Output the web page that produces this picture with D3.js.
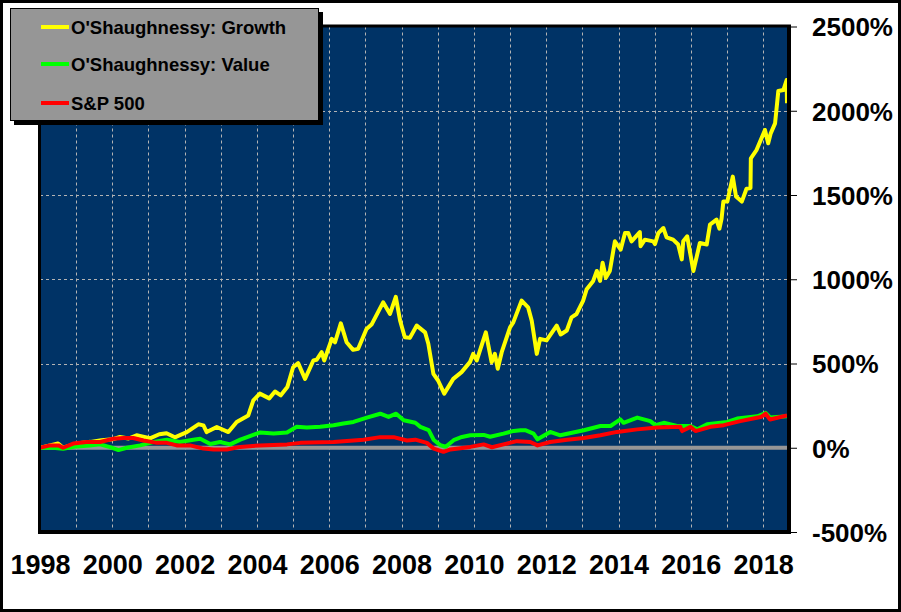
<!DOCTYPE html>
<html>
<head>
<meta charset="utf-8">
<script src="https://cdn.jsdelivr.net/npm/d3@7"></script>
<style>
  body { margin: 0; background: #fff; }
  svg text { font-family: Arial, "Liberation Sans", sans-serif; font-weight: bold; }
</style>
</head>
<body>
<div id="chart"></div>
<script>
// cumulative return (%), [year, pct]
var growth = [
  [1998.00, 0], [1998.30, 15], [1998.50, 25], [1998.64, 0], [1999.00, 25], [1999.40, 35],
  [1999.70, 45], [2000.00, 50], [2000.21, 64], [2000.45, 55], [2000.67, 74], [2001.04, 56],
  [2001.30, 80], [2001.50, 86], [2001.73, 62], [2002.06, 93], [2002.38, 139], [2002.52, 133],
  [2002.61, 93], [2002.89, 123], [2003.21, 93], [2003.44, 153], [2003.76, 192], [2003.90, 281],
  [2004.08, 321], [2004.34, 293], [2004.50, 334], [2004.66, 311], [2004.84, 360], [2005.00, 478],
  [2005.14, 502], [2005.33, 409], [2005.56, 518], [2005.65, 522], [2005.79, 567], [2005.86, 518],
  [2006.07, 646], [2006.16, 626], [2006.32, 738], [2006.48, 626], [2006.66, 581], [2006.80, 587],
  [2007.03, 705], [2007.17, 731], [2007.49, 863], [2007.68, 794], [2007.84, 896], [2007.96, 754],
  [2008.09, 656], [2008.23, 652], [2008.42, 725], [2008.65, 685], [2008.74, 617], [2008.88, 439],
  [2009.01, 399], [2009.18, 321], [2009.43, 409], [2009.66, 449], [2009.89, 508], [2009.98, 557],
  [2010.08, 518], [2010.33, 685], [2010.49, 508], [2010.58, 557], [2010.66, 469], [2010.77, 567],
  [2011.00, 715], [2011.09, 744], [2011.32, 873], [2011.50, 833], [2011.60, 754], [2011.74, 557],
  [2011.83, 646], [2012.01, 637], [2012.29, 725], [2012.40, 672], [2012.57, 696], [2012.70, 774],
  [2012.84, 794], [2013.02, 872], [2013.12, 941], [2013.30, 990], [2013.40, 1049], [2013.49, 990],
  [2013.56, 1098], [2013.65, 1009], [2013.76, 1049], [2013.90, 1225], [2014.06, 1176], [2014.18, 1274],
  [2014.27, 1274], [2014.36, 1225], [2014.59, 1280], [2014.61, 1196], [2014.73, 1235], [2014.96, 1225],
  [2015.01, 1209], [2015.10, 1274], [2015.24, 1304], [2015.33, 1249], [2015.51, 1235], [2015.65, 1206],
  [2015.75, 1118], [2015.79, 1225], [2015.90, 1255], [2016.07, 1049], [2016.25, 1215], [2016.44, 1206],
  [2016.53, 1324], [2016.71, 1354], [2016.79, 1300], [2016.85, 1359], [2016.90, 1461], [2017.01, 1461],
  [2017.16, 1609], [2017.25, 1491], [2017.41, 1461], [2017.54, 1537], [2017.65, 1541], [2017.66, 1718],
  [2017.82, 1768], [2018.05, 1886], [2018.14, 1807], [2018.21, 1866], [2018.33, 1925], [2018.42, 2117],
  [2018.56, 2123], [2018.65, 2182], [2018.66, 2044]
];

var value = [
  [1998.00, 0], [1998.28, 2], [1998.64, -6], [1999.02, 8], [1999.38, 14], [1999.66, 20],
  [1999.94, 4], [2000.17, -14], [2000.40, 0], [2000.77, 14], [2001.14, 34], [2001.51, 48],
  [2001.87, 34], [2002.24, 48], [2002.43, 54], [2002.71, 22], [2002.98, 34], [2003.26, 20],
  [2003.54, 48], [2004.09, 91], [2004.46, 85], [2004.83, 91], [2005.10, 124], [2005.38, 120],
  [2005.75, 124], [2006.12, 134], [2006.39, 144], [2006.67, 153], [2007.04, 179], [2007.41, 202],
  [2007.64, 183], [2007.85, 202], [2008.06, 163], [2008.38, 148], [2008.52, 124], [2008.75, 105],
  [2008.89, 46], [2009.07, 16], [2009.22, 6], [2009.44, 45], [2009.67, 64], [2009.90, 74],
  [2010.27, 76], [2010.45, 65], [2010.82, 84], [2011.10, 100], [2011.29, 104], [2011.42, 104],
  [2011.65, 84], [2011.76, 50], [2012.11, 94], [2012.39, 74], [2013.04, 104], [2013.50, 129],
  [2013.78, 129], [2014.05, 168], [2014.14, 148], [2014.52, 179], [2014.88, 158], [2015.02, 134],
  [2015.25, 148], [2015.62, 129], [2015.99, 129], [2016.18, 109], [2016.45, 139], [2017.01, 153],
  [2017.28, 173], [2017.84, 187], [2018.07, 207], [2018.20, 179], [2018.66, 187]
];

var sp500 = [
  [1998.00, 0], [1998.28, 14], [1998.51, 14], [1998.64, 0], [1998.92, 25], [1999.29, 34],
  [1999.66, 34], [2000.03, 53], [2000.31, 58], [2000.58, 58], [2000.86, 43], [2001.23, 29],
  [2001.51, 29], [2001.78, 14], [2002.15, 14], [2002.52, -5], [2002.80, -10], [2003.17, -10],
  [2003.54, 5], [2004.09, 14], [2004.83, 20], [2005.20, 29], [2006.12, 34], [2006.95, 48],
  [2007.41, 63], [2007.78, 63], [2008.15, 43], [2008.38, 48], [2008.70, 29], [2008.89, -5],
  [2009.16, -24], [2009.35, -10], [2009.90, 5], [2010.27, 20], [2010.50, 3], [2010.82, 20],
  [2011.19, 39], [2011.56, 34], [2011.76, 14], [2012.11, 34], [2012.58, 48], [2013.04, 58],
  [2013.50, 74], [2013.96, 94], [2014.52, 109], [2015.07, 120], [2015.71, 124], [2015.76, 99],
  [2015.99, 124], [2016.13, 99], [2016.54, 124], [2016.91, 134], [2017.37, 158], [2017.93, 182],
  [2018.07, 202], [2018.19, 168], [2018.66, 192]
];

var seriesNames = ["O'Shaughnessy: Growth", "O'Shaughnessy: Value", "S&P 500"];
var seriesColors = ["#ffff00", "#00ff00", "#ff0000"];
var yearTicks = [1998, 2000, 2002, 2004, 2006, 2008, 2010, 2012, 2014, 2016, 2018];
var gridYears = d3.range(1999, 2019);
var pctTicks = [-500, 0, 500, 1000, 1500, 2000, 2500];

var width = 901, height = 612;
var plot = { left: 40, right: 787, top: 26.5, bottom: 532 };

var svg = d3.select("#chart").append("svg")
    .attr("width", width)
    .attr("height", height);

svg.append("rect")
    .attr("x", 1.5).attr("y", 1.5)
    .attr("width", width - 3).attr("height", height - 3)
    .attr("fill", "#fff")
    .attr("stroke", "#000")
    .attr("stroke-width", 3);

var x = d3.scaleLinear().domain([1998, 2018.66]).range([plot.left, plot.right]);
var y = d3.scaleLinear().domain([-500, 2500]).range([plot.bottom, plot.top]);

// plot frame with a little shadow on right / bottom
svg.append("rect")
    .attr("x", plot.left - 2).attr("y", plot.top - 2)
    .attr("width", plot.right - plot.left + 6)
    .attr("height", plot.bottom - plot.top + 4)
    .attr("fill", "#000");
svg.append("rect")
    .attr("x", plot.left + 1).attr("y", plot.top + 1)
    .attr("width", plot.right - plot.left - 1)
    .attr("height", plot.bottom - plot.top - 3)
    .attr("fill", "#003366");

svg.append("clipPath").attr("id", "clip")
  .append("rect")
    .attr("x", plot.left + 1).attr("y", plot.top + 1)
    .attr("width", plot.right - plot.left - 1)
    .attr("height", plot.bottom - plot.top - 3);

var inner = svg.append("g").attr("clip-path", "url(#clip)");

inner.selectAll(".vgrid")
    .data(gridYears)
    .enter().append("line")
    .attr("class", "vgrid")
    .attr("x1", function(d) { return Math.round(x(d)) + 0.5; })
    .attr("x2", function(d) { return Math.round(x(d)) + 0.5; })
    .attr("y1", plot.top)
    .attr("y2", plot.bottom)
    .attr("stroke", "#b4b4b4")
    .attr("stroke-width", 1)
    .attr("stroke-dasharray", "3,3");

inner.selectAll(".hgrid")
    .data(pctTicks.filter(function(d) { return d > 0 && d < 2500; }))
    .enter().append("line")
    .attr("class", "hgrid")
    .attr("x1", plot.left)
    .attr("x2", plot.right)
    .attr("y1", function(d) { return Math.round(y(d)) + 0.5; })
    .attr("y2", function(d) { return Math.round(y(d)) + 0.5; })
    .attr("stroke", "#b4b4b4")
    .attr("stroke-width", 1)
    .attr("stroke-dasharray", "3,3");

// zero line
inner.append("line")
    .attr("x1", plot.left).attr("x2", plot.right)
    .attr("y1", y(0)).attr("y2", y(0))
    .attr("stroke", "#969696")
    .attr("stroke-width", 4);

var line = d3.line()
    .x(function(d) { return x(d[0]); })
    .y(function(d) { return y(d[1]); });

var allSeries = [growth, value, sp500];
inner.selectAll(".series")
    .data(allSeries)
    .enter().append("path")
    .attr("class", "series")
    .attr("d", line)
    .attr("fill", "none")
    .attr("stroke", function(d, i) { return seriesColors[i]; })
    .attr("stroke-width", 4)
    .attr("stroke-linejoin", "round");

// right axis
var yAxis = svg.append("g")
    .attr("transform", "translate(" + (plot.right + 3) + ",0)")
    .call(d3.axisRight(y).tickValues(pctTicks).tickSize(7).tickFormat(function(d) { return d + "%"; }));
yAxis.select(".domain").remove();
yAxis.selectAll(".tick line").attr("stroke", "#000").attr("stroke-width", 1);
yAxis.selectAll(".tick text")
    .attr("x", 22)
    .attr("dy", "0.36em")
    .attr("fill", "#000")
    .style("font-size", "26px");

// bottom labels
var xAxis = svg.append("g")
    .attr("transform", "translate(0," + 574 + ")")
    .call(d3.axisBottom(x).tickValues(yearTicks).tickSize(0).tickFormat(d3.format("d")));
xAxis.select(".domain").remove();
xAxis.selectAll(".tick text")
    .attr("y", 0)
    .attr("dy", 0)
    .attr("fill", "#000")
    .style("font-size", "27px");

// legend
var legend = svg.append("g").attr("class", "legend");
legend.append("rect")
    .attr("x", 14).attr("y", 12)
    .attr("width", 309).attr("height", 113)
    .attr("fill", "#000");
legend.append("rect")
    .attr("x", 10.5).attr("y", 8.5)
    .attr("width", 308).attr("height", 112)
    .attr("fill", "#969696")
    .attr("stroke", "#000")
    .attr("stroke-width", 1);

var legendRows = legend.selectAll(".legend-row")
    .data(seriesNames)
    .enter().append("g")
    .attr("class", "legend-row")
    .attr("transform", function(d, i) {
        var ly = [27, 64, 103][i];
        return "translate(41," + ly + ")";
    });

legendRows.append("line")
    .attr("x1", 0).attr("x2", 28)
    .attr("y1", 0).attr("y2", 0)
    .attr("stroke", function(d, i) { return seriesColors[i]; })
    .attr("stroke-width", 4);

legendRows.append("text")
    .attr("x", 30)
    .attr("y", 0)
    .attr("dy", "0.36em")
    .style("font-size", "18.5px")
    .attr("fill", "#000")
    .text(function(d) { return d; });
</script>
</body>
</html>
